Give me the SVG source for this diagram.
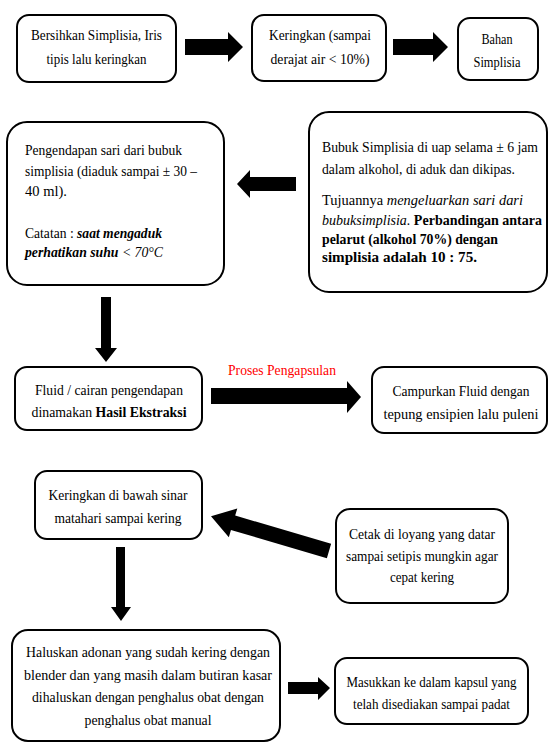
<svg xmlns="http://www.w3.org/2000/svg" width="551" height="743" viewBox="0 0 551 743">
<style>
.box{fill:#fff;stroke:#000;stroke-width:2}
.t{font-family:"Liberation Serif","Times New Roman",serif;font-size:14px;fill:#000}
.c{text-anchor:middle}
.b{font-weight:bold}
.i{font-style:italic}
.arr{fill:#000}
.red{fill:#ff0000}
</style>
<rect width="551" height="743" fill="#fff"/>
<g id="connectors">
<polygon class="arr" points="185,39 228,39 228,32 243,47 228,62 228,55 185,55"/>
<polygon class="arr" points="393,39 433,39 433,32 448,47 433,62 433,55 393,55"/>
<polygon class="arr" points="296,177 250,177 250,170 237,184 250,198 250,191 296,191"/>
<polygon class="arr" points="101,297 111,297 111,348 117,348 106,362 95,348 101,348"/>
<polygon class="arr" points="211,388 347,388 347,381 361,397 347,413 347,404 211,404"/>
<polygon class="arr" transform="translate(329,551) rotate(196.4)" points="0,-7.5 100,-7.5 100,-15 123,0 100,15 100,7.5 0,7.5"/>
<polygon class="arr" points="116,547 125,547 125,607 131,607 121,621 111,607 116,607"/>
<polygon class="arr" points="288,682 318,682 318,677 330,688 318,700 318,694 288,694"/>
</g>
<g id="n1"><rect class="box" x="17" y="15" width="159" height="67" rx="12"/>
<text class="t c" x="96.5" y="40" textLength="131" lengthAdjust="spacingAndGlyphs">Bersihkan Simplisia, Iris</text>
<text class="t c" x="96.5" y="64" textLength="100" lengthAdjust="spacingAndGlyphs">tipis lalu keringkan</text></g>
<g id="n2"><rect class="box" x="252" y="15" width="134" height="66" rx="12"/>
<text class="t c" x="320" y="40" textLength="102" lengthAdjust="spacingAndGlyphs">Keringkan (sampai</text>
<text class="t c" x="320" y="64" textLength="99" lengthAdjust="spacingAndGlyphs">derajat air &lt; 10%)</text></g>
<g id="n3"><rect class="box" x="458" y="18" width="80" height="62" rx="12"/>
<text class="t c" x="497" y="44" textLength="31" lengthAdjust="spacingAndGlyphs">Bahan</text>
<text class="t c" x="497" y="67" textLength="47" lengthAdjust="spacingAndGlyphs">Simplisia</text></g>
<g id="n4"><rect class="box" x="7" y="122" width="217" height="163" rx="20"/>
<text class="t" x="25" y="155" textLength="157" lengthAdjust="spacingAndGlyphs">Pengendapan sari dari bubuk</text>
<text class="t" x="25" y="176" textLength="172" lengthAdjust="spacingAndGlyphs">simplisia (diaduk sampai ± 30 –</text>
<text class="t" x="25" y="196" textLength="42" lengthAdjust="spacingAndGlyphs">40 ml).</text>
<text class="t" x="25" y="238" textLength="137" lengthAdjust="spacingAndGlyphs">Catatan : <tspan class="b i">saat mengaduk</tspan></text>
<text class="t i" x="25" y="257" textLength="138" lengthAdjust="spacingAndGlyphs"><tspan class="b">perhatikan suhu</tspan> &lt; 70°C</text></g>
<g id="n5"><rect class="box" x="309" y="112" width="238" height="180" rx="20"/>
<text class="t" x="322" y="152" textLength="216" lengthAdjust="spacingAndGlyphs">Bubuk Simplisia di uap selama ± 6 jam</text>
<text class="t" x="322" y="174" textLength="193" lengthAdjust="spacingAndGlyphs">dalam alkohol, di aduk dan dikipas.</text>
<text class="t" x="322" y="205" textLength="201" lengthAdjust="spacingAndGlyphs">Tujuannya <tspan class="i">mengeluarkan sari dari</tspan></text>
<text class="t" x="322" y="225" textLength="220" lengthAdjust="spacingAndGlyphs"><tspan class="i">bubuksimplisia.</tspan> <tspan class="b">Perbandingan antara</tspan></text>
<text class="t b" x="322" y="244" textLength="176" lengthAdjust="spacingAndGlyphs">pelarut (alkohol 70%) dengan</text>
<text class="t b" x="322" y="262" textLength="155" lengthAdjust="spacingAndGlyphs">simplisia adalah 10 : 75.</text></g>
<g id="n6"><rect class="box" x="15" y="367" width="187" height="63" rx="12"/>
<text class="t c" x="109" y="395" textLength="148" lengthAdjust="spacingAndGlyphs">Fluid / cairan pengendapan</text>
<text class="t c" x="109" y="417" textLength="155" lengthAdjust="spacingAndGlyphs">dinamakan <tspan class="b">Hasil Ekstraksi</tspan></text></g>
<text class="t red" x="228" y="375" textLength="108" lengthAdjust="spacingAndGlyphs">Proses Pengapsulan</text>
<g id="n7"><rect class="box" x="372" y="367" width="175" height="66" rx="12"/>
<text class="t c" x="461" y="396" textLength="137" lengthAdjust="spacingAndGlyphs">Campurkan Fluid dengan</text>
<text class="t c" x="461" y="419" textLength="155" lengthAdjust="spacingAndGlyphs">tepung ensipien lalu puleni</text></g>
<g id="n8"><rect class="box" x="35" y="471" width="167" height="68" rx="12"/>
<text class="t c" x="118" y="500" textLength="139" lengthAdjust="spacingAndGlyphs">Keringkan di bawah sinar</text>
<text class="t c" x="118" y="523" textLength="127" lengthAdjust="spacingAndGlyphs">matahari sampai kering</text></g>
<g id="n9"><rect class="box" x="336" y="509" width="172" height="94" rx="14"/>
<text class="t c" x="422" y="539" textLength="146" lengthAdjust="spacingAndGlyphs">Cetak di loyang yang datar</text>
<text class="t c" x="422" y="561" textLength="152" lengthAdjust="spacingAndGlyphs">sampai setipis mungkin agar</text>
<text class="t c" x="422" y="582" textLength="64" lengthAdjust="spacingAndGlyphs">cepat kering</text></g>
<g id="n10"><rect class="box" x="12" y="630" width="268" height="111" rx="16"/>
<text class="t c" x="148" y="657" textLength="244" lengthAdjust="spacingAndGlyphs">Haluskan adonan yang sudah kering dengan</text>
<text class="t c" x="148" y="680" textLength="248" lengthAdjust="spacingAndGlyphs">blender dan yang masih dalam butiran kasar</text>
<text class="t c" x="148" y="702" textLength="232" lengthAdjust="spacingAndGlyphs">dihaluskan dengan penghalus obat dengan</text>
<text class="t c" x="148" y="725" textLength="127" lengthAdjust="spacingAndGlyphs">penghalus obat manual</text></g>
<g id="n11"><rect class="box" x="335" y="658" width="193" height="66" rx="12"/>
<text class="t c" x="431.5" y="687" textLength="170" lengthAdjust="spacingAndGlyphs">Masukkan ke dalam kapsul yang</text>
<text class="t c" x="431.5" y="709" textLength="157" lengthAdjust="spacingAndGlyphs">telah disediakan sampai padat</text></g>
</svg>
